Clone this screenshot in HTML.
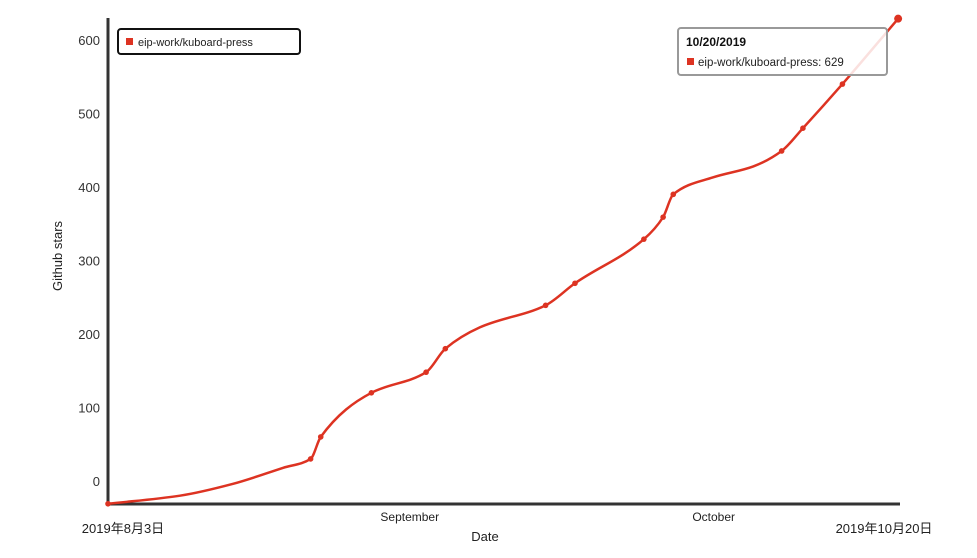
<!DOCTYPE html>
<html><head><meta charset="utf-8">
<style>
html,body{margin:0;padding:0;background:#fff;}
svg{display:block;font-family:"Liberation Sans","Noto Sans CJK SC",sans-serif;}
</style></head>
<body>
<svg id="chart" width="977" height="558">
  <g id="yticks"></g>
  <line x1="108" y1="18" x2="108" y2="506" stroke="#333" stroke-width="3"/>
  <line x1="106" y1="504" x2="900" y2="504" stroke="#333" stroke-width="3"/>
  <g id="xticks"></g>
  <text x="485" y="541" font-size="13" text-anchor="middle" fill="#222">Date</text>
  <text x="62" y="256" font-size="13" text-anchor="middle" fill="#222" transform="rotate(-90 62 256)">Github stars</text>
  <path id="line" fill="none" stroke="#dd3322" stroke-width="2.5"/>
  <g id="dots"></g>
  <g>
    <rect x="118" y="29" width="182" height="25" rx="3" fill="#fff" stroke="#111" stroke-width="2"/>
    <rect x="126" y="38" width="7" height="7" fill="#dd3322"/>
    <text x="138" y="46" font-size="11" fill="#222">eip-work/kuboard-press</text>
  </g>
  <g>
    <rect x="678" y="28" width="209" height="47" rx="3" fill="#fff" fill-opacity="0.85" stroke="#999" stroke-width="2"/>
    <text x="686" y="46" font-size="12" font-weight="bold" fill="#111">10/20/2019</text>
    <rect x="687" y="58" width="7" height="7" fill="#dd3322"/>
    <text x="698" y="66" font-size="11.5" fill="#222">eip-work/kuboard-press: 629</text>
  </g>
</svg>
<script>
const dayOffsets = [0, 7.1, 12.3, 17.3, 20, 21, 26, 31.4, 33.3, 36.7, 43.2, 46.1, 52.9, 54.8, 55.8, 59.7, 63.7, 66.5, 68.6, 72.5, 78];
const starValues = [-31, -20, -4, 18, 30, 60, 120, 148, 180, 209, 239, 269, 329, 359, 390, 413, 428, 449, 480, 540, 629];
const markedPoints = [true, false, false, false, true, true, true, true, true, false, true, true, true, true, true, false, false, true, true, true, true];
const yTickValues = [0, 100, 200, 300, 400, 500, 600];
const xTickLabels = ["2019年8月3日", "September", "October", "2019年10月20日"];
const xTickDays = [0, 29, 59, 78];

const NS = "http://www.w3.org/2000/svg";
function xScale(d){ return 108 + d * 10.13; }
function yScale(v){ return 481 - v * 0.735; }

const yt = document.getElementById('yticks');
yTickValues.forEach(v => {
  const t = document.createElementNS(NS, 'text');
  
  
  t.setAttribute('x', 100); t.setAttribute('y', yScale(v) + 5);
  t.setAttribute('text-anchor', 'end'); t.setAttribute('font-size', '13'); t.setAttribute('fill', '#333');
  t.textContent = v; yt.appendChild(t);
});
const xt = document.getElementById('xticks');
xTickLabels.forEach((lab, i) => {
  const t = document.createElementNS(NS, 'text');
  
  
  let x = xScale(xTickDays[i]), y = 521;
  if (i === 1 || i === 2) x += 8;
  if (i === 0) { x = 123; y = 533; }
  if (i === 3) { x = 884; y = 533; }
  t.setAttribute('x', x); t.setAttribute('y', y);
  t.setAttribute('text-anchor', 'middle');
  t.setAttribute('font-size', (i === 0 || i === 3) ? '13' : '12');
  t.setAttribute('fill', '#222');
  t.textContent = lab; xt.appendChild(t);
});

const px = dayOffsets.map(xScale), py = starValues.map(yScale);
const n = px.length, m = [], s = [];
for (let i = 0; i < n - 1; i++) s.push((py[i+1]-py[i])/(px[i+1]-px[i]));
m[0] = s[0]; m[n-1] = s[n-2];
for (let i = 1; i < n - 1; i++) {
  if (s[i-1]*s[i] <= 0) m[i] = 0;
  else {
    const h0 = px[i]-px[i-1], h1 = px[i+1]-px[i];
    m[i] = 3*(h0+h1)/((2*h1+h0)/s[i-1] + (h1+2*h0)/s[i]);
  }
}
let d = `M${px[0]},${py[0]}`;
for (let i = 0; i < n - 1; i++) {
  const h = (px[i+1]-px[i])/3;
  d += ` C${px[i]+h},${py[i]+m[i]*h} ${px[i+1]-h},${py[i+1]-m[i+1]*h} ${px[i+1]},${py[i+1]}`;
}
document.getElementById('line').setAttribute('d', d);

const dots = document.getElementById('dots');
for (let i = 0; i < n; i++) {
  if (!markedPoints[i]) continue;
  const c = document.createElementNS(NS, 'circle');
  
  
  c.setAttribute('cx', px[i]); c.setAttribute('cy', py[i]);
  c.setAttribute('r', i === n - 1 ? 4 : 2.8);
  c.setAttribute('fill', '#dd3322');
  dots.appendChild(c);
}
</script>
</body></html>
